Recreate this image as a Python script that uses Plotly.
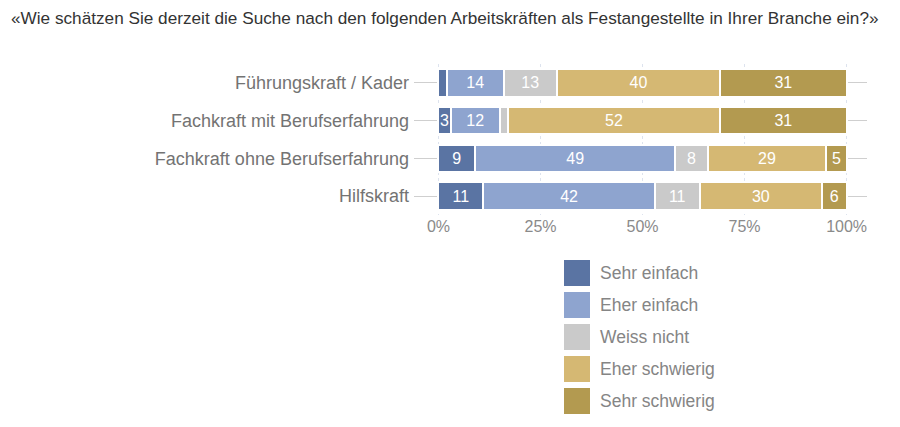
import plotly.graph_objects as go

# ---- data ----
categories = ["Führungskraft / Kader", "Fachkraft mit Berufserfahrung",
              "Fachkraft ohne Berufserfahrung", "Hilfskraft"]
series_names = ["Sehr einfach", "Eher einfach", "Weiss nicht", "Eher schwierig", "Sehr schwierig"]
sehr_einfach = [2, 3, 9, 11]
eher_einfach = [14, 12, 49, 42]
weiss_nicht = [13, 2, 8, 11]
eher_schwierig = [40, 52, 29, 30]
sehr_schwierig = [31, 31, 5, 6]
tick_vals = [0, 25, 50, 75, 100]
tick_text = ["0%", "25%", "50%", "75%", "100%"]
title_text = "«Wie schätzen Sie derzeit die Suche nach den folgenden Arbeitskräften als Festangestellte in Ihrer Branche ein?»"

colors = ["#5a74a3", "#8ea4cf", "#cacaca", "#d5b873", "#b39a50"]
series = [sehr_einfach, eher_einfach, weiss_nicht, eher_schwierig, sehr_schwierig]

FONT = "Liberation Sans, Arial, sans-serif"

fig = go.Figure()
for name, vals, col in zip(series_names, series, colors):
    fig.add_trace(go.Bar(
        y=categories, x=vals, name=name, orientation="h",
        marker=dict(color=col, line=dict(color="white", width=2)),
        text=[str(v) if v >= 3 else "" for v in vals],
        textposition="inside", insidetextanchor="middle",
        constraintext="none", cliponaxis=False,
        textfont=dict(color="white", size=16, family=FONT),
        showlegend=False, hoverinfo="skip",
    ))

OFF = 8  # page body margin offset
W, H = 900 - OFF, 427 - OFF
ml, mr, mt, mb = 406, 33, 56, 212
plot_w = W - ml - mr
plot_h = H - mt - mb

def px_x(px):
    return (px - OFF - ml) / plot_w

def px_y(py):
    return (H - mb - (py - OFF)) / plot_h

# manual legend with large swatches
for i, (name, col) in enumerate(zip(series_names, colors)):
    top = 260 + 32 * i
    fig.add_shape(type="rect", xref="paper", yref="paper",
                  x0=px_x(564), x1=px_x(590), y0=px_y(top + 26), y1=px_y(top),
                  fillcolor=col, line=dict(width=0))
    fig.add_annotation(xref="paper", yref="paper", x=px_x(598), y=px_y(top + 13),
                       text=name, showarrow=False, xanchor="left", yanchor="middle",
                       font=dict(size=17.5, color="#858585", family=FONT))

fig.add_annotation(xref="paper", yref="paper", x=px_x(9), y=px_y(18),
                   text=title_text, showarrow=False, xanchor="left", yanchor="middle",
                   font=dict(size=17.2, color="#333333", family=FONT))

fig.update_layout(
    width=W, height=H,
    margin=dict(l=ml, r=mr, t=mt, b=mb),
    barmode="stack", bargap=0.27,
    plot_bgcolor="white", paper_bgcolor="white",
    xaxis=dict(range=[-6, 105], tickvals=tick_vals, ticktext=tick_text,
               showgrid=True, gridcolor="#dde3ee", griddash="dot", gridwidth=1,
               zeroline=False, showline=False, ticks="",
               tickfont=dict(size=16, color="#8a8a8a", family=FONT)),
    yaxis=dict(categoryorder="array", categoryarray=categories, autorange="reversed",
               showgrid=True, gridcolor="#cfcfcf", gridwidth=1,
               ticks="", ticklabelstandoff=4, showline=False, zeroline=False,
               tickfont=dict(size=18, color="#737373", family=FONT)),
    font=dict(family=FONT),
)

fig.write_html("out.html")
